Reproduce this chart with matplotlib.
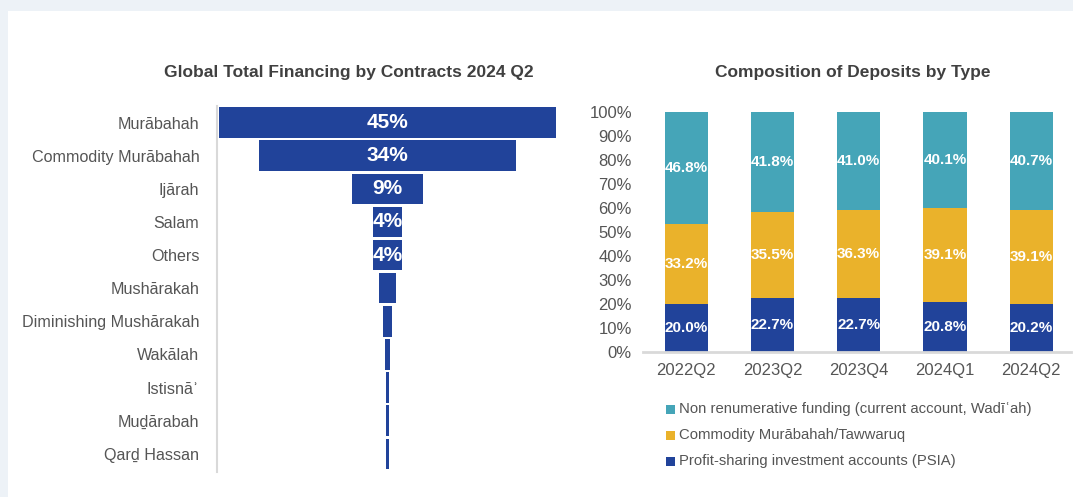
import numpy as np
import matplotlib.pyplot as plt
from matplotlib.patches import Rectangle

plt.rcParams['font.family'] = ['Liberation Sans', 'DejaVu Sans']

# funnel data
contracts = ['Murābahah', 'Commodity Murābahah', 'Ijārah', 'Salam', 'Others',
             'Mushārakah', 'Diminishing Mushārakah', 'Wakālah', 'Istisnāʾ',
             'Muḏārabah', 'Qarḏ Hassan']
shares = [45, 34.2, 9.5, 3.9, 3.9, 2.4, 1.1, 0.7, 0.3, 0.3, 0.3]
share_labels = ['45%', '34%', '9%', '4%', '4%', '', '', '', '', '', '']

# deposits data
periods = ['2022Q2', '2023Q2', '2023Q4', '2024Q1', '2024Q2']
psia = [20.0, 22.7, 22.7, 20.8, 20.2]
murabahah = [33.2, 35.5, 36.3, 39.1, 39.1]
non_rem = [46.8, 41.8, 41.0, 40.1, 40.7]

blue = '#21439A'
yellow = '#EAB22B'
teal = '#45A5B8'
grey_txt = '#404040'
lab_txt = '#555555'

W, H = 1073, 497
fig = plt.figure(figsize=(W / 100, H / 100), dpi=100)
fig.patch.set_facecolor('#EDF2F7')
fig.patches.append(Rectangle((8 / W, 0), 1, 1 - 11 / H, transform=fig.transFigure,
                             facecolor='white', edgecolor='none', zorder=-1))

# ---- left: funnel
ax1 = fig.add_axes([219 / W, 1 - 472 / H, 337 / W, 366 / H])
for s in ['top', 'right', 'bottom']:
    ax1.spines[s].set_visible(False)
ax1.spines['left'].set_color('#D9D9D9')
ax1.spines['left'].set_linewidth(1.5)
ax1.spines['left'].set_position(('axes', -0.005))

y = np.arange(len(contracts))
ax1.barh(y, shares, left=-np.array(shares) / 2, height=0.92, color=blue)
for yi, lab in zip(y, share_labels):
    if lab:
        ax1.text(0, yi, lab, color='white', fontsize=15, fontweight='bold',
                 ha='center', va='center')
ax1.set_xlim(-22.5, 22.5)
ax1.set_ylim(len(contracts) - 0.45, -0.5)
ax1.set_yticks(y)
ax1.set_yticklabels(contracts)
ax1.tick_params(axis='y', length=0, pad=13, labelsize=11.6, labelcolor=lab_txt)
ax1.set_xticks([])
fig.text(349 / W, 1 - 72 / H, 'Global Total Financing by Contracts 2024 Q2',
         ha='center', va='center', fontsize=12.5, fontweight='bold', color=grey_txt)

# ---- right: stacked bars
ax2 = fig.add_axes([643 / W, 1 - 352 / H, 428 / W, 240 / H])
x = np.arange(len(periods))
bw = 0.5
ax2.bar(x, psia, width=bw, color=blue)
ax2.bar(x, murabahah, width=bw, bottom=psia, color=yellow)
bottom2 = np.array(psia) + np.array(murabahah)
ax2.bar(x, non_rem, width=bw, bottom=bottom2, color=teal)
for xi, a, b, c in zip(x, psia, murabahah, non_rem):
    for base, v in [(0, a), (a, b), (a + b, c)]:
        ax2.text(xi, base + v / 2, f'{v:.1f}%', color='white', fontsize=11,
                 fontweight='bold', ha='center', va='center')
ax2.set_xlim(-0.5, 4.46)
ax2.set_ylim(0, 100)
ax2.set_yticks(np.arange(0, 101, 10))
ax2.set_yticklabels([f'{v}%' for v in range(0, 101, 10)], fontsize=12, color=lab_txt)
ax2.set_xticks(x)
ax2.set_xticklabels(periods, fontsize=12, color=lab_txt)
ax2.tick_params(axis='both', length=0)
ax2.tick_params(axis='y', pad=8)
ax2.tick_params(axis='x', pad=8)
for s in ['top', 'right', 'left']:
    ax2.spines[s].set_visible(False)
ax2.spines['bottom'].set_color('#D9D9D9')
ax2.spines['bottom'].set_linewidth(2)
fig.text(853 / W, 1 - 72 / H, 'Composition of Deposits by Type',
         ha='center', va='center', fontsize=12.5, fontweight='bold', color=grey_txt)

# legend
legend_items = [('Non renumerative funding (current account, Wadīʿah)', teal),
                ('Commodity Murābahah/Tawwaruq', yellow),
                ('Profit-sharing investment accounts (PSIA)', blue)]
for i, (lab, col) in enumerate(legend_items):
    yy = 1 - (409 + 26 * i) / H
    fig.patches.append(Rectangle((666 / W, yy - 4.5 / H), 9 / W, 9 / H,
                                 transform=fig.transFigure, facecolor=col,
                                 edgecolor='none'))
    fig.text(679 / W, yy, lab, ha='left', va='center', fontsize=10.7, color=lab_txt)

fig.savefig('out.png', dpi=100)
